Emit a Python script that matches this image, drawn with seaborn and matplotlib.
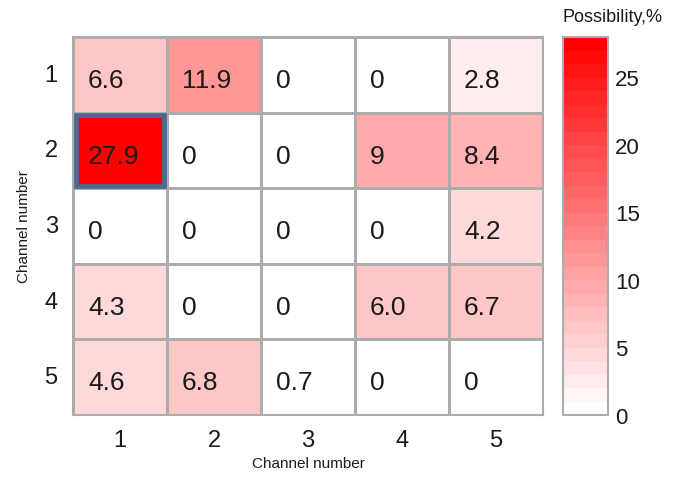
import numpy as np
import pandas as pd
import matplotlib
matplotlib.use("Agg")
import matplotlib.pyplot as plt
from matplotlib.colors import LinearSegmentedColormap
from matplotlib.patches import Rectangle
import seaborn as sns

# Channel indices and transition possibilities (%)
channels = ["1", "2", "3", "4", "5"]
row_1 = [6.6, 11.9, 0, 0, 2.8]
row_2 = [27.9, 0, 0, 9, 8.4]
row_3 = [0, 0, 0, 0, 4.2]
row_4 = [4.3, 0, 0, 6.0, 6.7]
row_5 = [4.6, 6.8, 0.7, 0, 0]
cell_labels = [
    ["6.6", "11.9", "0", "0", "2.8"],
    ["27.9", "0", "0", "9", "8.4"],
    ["0", "0", "0", "0", "4.2"],
    ["4.3", "0", "0", "6.0", "6.7"],
    ["4.6", "6.8", "0.7", "0", "0"],
]
cbar_ticks = [0, 5, 10, 15, 20, 25]
highlight_row, highlight_col = 1, 0

values = pd.DataFrame([row_1, row_2, row_3, row_4, row_5],
                      index=channels, columns=channels)

sns.set_theme(style="white")
plt.rcParams["font.family"] = ["Liberation Sans", "DejaVu Sans"]

fig = plt.figure(figsize=(6.76, 4.81), dpi=100)
ax = fig.add_axes([73 / 676, 65 / 481, 470 / 676, 378 / 481])
cax = fig.add_axes([563 / 676, 65 / 481, 45 / 676, 378 / 481])

cmap = LinearSegmentedColormap.from_list("white_red", ["#ffffff", "#ff0000"], N=28)

sns.heatmap(values, ax=ax, cbar_ax=cax, cmap=cmap, vmin=0, vmax=28,
            annot=np.array(cell_labels), fmt="",
            annot_kws={"fontsize": 19, "color": "#1a1a1a"},
            linewidths=1.0, linecolor="#acacac",
            cbar_kws={"ticks": cbar_ticks})

# Left-align the cell labels
for t in ax.texts:
    x, y = t.get_position()
    t.set_horizontalalignment("left")
    t.set_position((x - 0.34, y + 0.07))

# Outline of the heatmap
for s in ax.spines.values():
    s.set_visible(True)
    s.set_color("#acacac")
    s.set_linewidth(1.5)

# Highlighted cell
ax.add_patch(Rectangle((highlight_col + 0.03, highlight_row + 0.035), 0.94, 0.93,
                       fill=False, edgecolor="#4a6a94", linewidth=3.4, zorder=5))

ax.tick_params(axis="both", length=0, labelsize=17, colors="#1a1a1a")
ax.tick_params(axis="x", pad=10)
ax.tick_params(axis="y", pad=11)
ax.set_yticklabels(channels, rotation=0)
ax.set_xticklabels(channels, rotation=0)
ax.set_xlabel("Channel number", fontsize=11, color="#1a1a1a", labelpad=4)
ax.set_ylabel("Channel number", fontsize=11, color="#1a1a1a", labelpad=10)

cax.tick_params(length=0, labelsize=16, colors="#1a1a1a", pad=5)
cb = ax.collections[0].colorbar
cb.outline.set_edgecolor("#acacac")
cb.outline.set_linewidth(1.5)

fig.text(562 / 676, 1 - 18 / 481, "Possibility,%", fontsize=13, color="#1a1a1a",
         ha="left", va="center")

fig.savefig("out.png", dpi=100)
